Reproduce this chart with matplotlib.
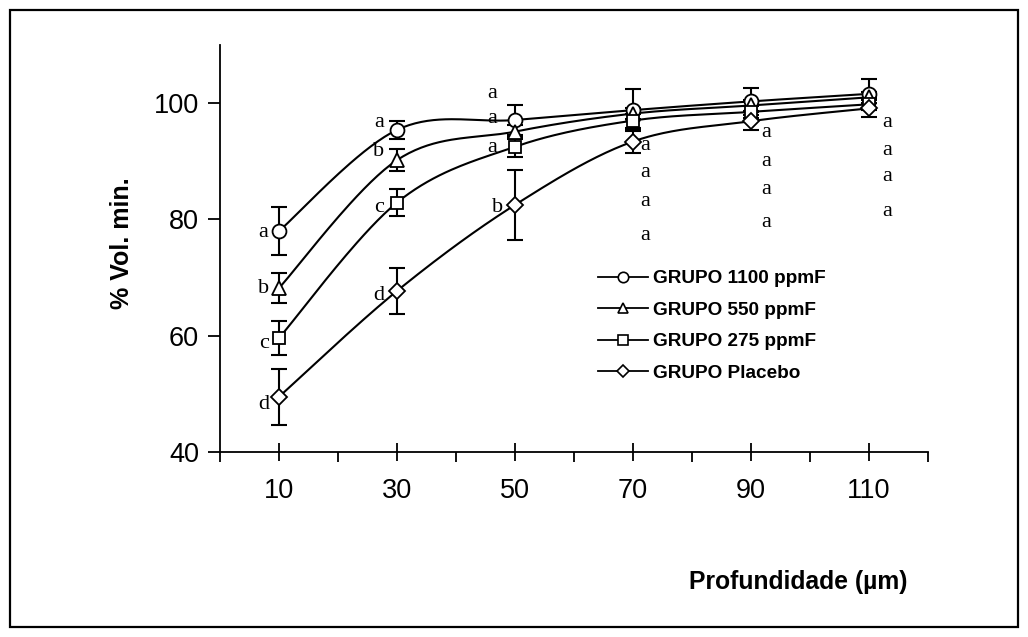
import numpy as np
import matplotlib
matplotlib.use("Agg")
import matplotlib.pyplot as plt
from matplotlib.patches import Rectangle
from matplotlib.lines import Line2D

# ---- data ----
depths = [10, 30, 50, 70, 90, 110]
g1100 = [78.0, 95.4, 97.1, 98.8, 100.3, 101.6]
e1100 = [4.2, 1.5, 2.6, 3.6, 2.3, 2.5]
g550 = [68.2, 90.2, 95.1, 98.2, 99.6, 101.0]
e550 = [2.6, 1.9, 1.2, 1.0, 1.0, 1.0]
g275 = [59.6, 82.9, 92.5, 97.0, 98.5, 99.8]
e275 = [3.0, 2.3, 1.7, 1.2, 1.0, 1.0]
gplac = [49.5, 67.7, 82.5, 93.4, 96.9, 99.1]
eplac = [4.8, 3.9, 6.0, 2.0, 1.6, 1.4]
series_names = ["GRUPO 1100 ppmF", "GRUPO 550 ppmF", "GRUPO 275 ppmF", "GRUPO Placebo"]
x_ticklabels = ["10", "30", "50", "70", "90", "110"]

# significance letters per depth (top to bottom)
letters = [["a", "b", "c", "d"], ["a", "b", "c", "d"], ["a", "a", "a", "b"],
           ["a", "a", "a", "a"], ["a", "a", "a", "a"], ["a", "a", "a", "a"]]

# ---- figure ----
W, H = 1028, 637
fig = plt.figure(figsize=(W / 100, H / 100), dpi=100)
fig.patches.append(Rectangle((10 / W, 10 / H), 1008 / W, 617 / H, transform=fig.transFigure,
                             fill=False, edgecolor="black", linewidth=1.6))

ax = fig.add_axes([220 / W, 1 - 452 / H, 708 / W, 407 / H])
ax.set_xlim(0, 120)
ax.set_ylim(40, 110)
for s in ["top", "right"]:
    ax.spines[s].set_visible(False)
for s in ["left", "bottom"]:
    ax.spines[s].set_linewidth(1.3)


def smooth(xs, ys, n=40):
    xs = np.asarray(xs, float)
    ys = np.asarray(ys, float)
    P = np.column_stack([xs, ys])
    out = []
    for i in range(len(P) - 1):
        p0 = P[i - 1] if i > 0 else P[i]
        p1 = P[i]
        p2 = P[i + 1]
        p3 = P[i + 2] if i + 2 < len(P) else P[i + 1]
        c1 = p1 + (p2 - p0) / 6.0
        c2 = p2 - (p3 - p1) / 6.0
        t = np.linspace(0, 1, n)[:, None]
        seg = ((1 - t) ** 3) * p1 + 3 * ((1 - t) ** 2) * t * c1 + 3 * (1 - t) * t ** 2 * c2 + t ** 3 * p2
        out.append(seg if i == 0 else seg[1:])
    out = np.vstack(out)
    return out[:, 0], out[:, 1]


series = [(g1100, e1100, "o", 10), (g550, e550, "^", 10), (g275, e275, "s", 9), (gplac, eplac, "D", 8.5)]
for (vals, errs, mk, ms), name in zip(series, series_names):
    sx, sy = smooth(depths, vals)
    ax.plot(sx, sy, color="black", lw=1.5, zorder=2)
    ax.errorbar(depths, vals, yerr=errs, fmt="none", ecolor="black", elinewidth=1.5,
                capsize=6, capthick=1.5, zorder=3)
    ax.plot(depths, vals, linestyle="none", marker=mk, markersize=ms, markerfacecolor="white",
            markeredgecolor="black", markeredgewidth=1.3, zorder=4)

# letter placement (layout only)
letter_pos = [
    (7.4, [77.7, 68.2, 58.7, 48.1]),
    (26.9, [96.6, 91.6, 82.1, 67.0]),
    (46.1, [101.7, 97.3, 92.4, 82.0]),
    (72.1, [92.8, 88.0, 83.0, 77.3]),
    (92.6, [94.9, 89.9, 85.1, 79.4]),
    (113.1, [96.6, 91.9, 87.3, 81.3]),
]
for (lx, lys), labs in zip(letter_pos, letters):
    for j, (ly, lab) in enumerate(zip(lys, labs)):
        xx = lx + (1.0 if (lx == 46.1 and j == 3) else 0)
        ax.text(xx, ly, lab, ha="center", va="center", fontsize=16,
                family="Liberation Serif", zorder=5)

# ticks
ax.set_xticks(depths)
ax.set_xticklabels(x_ticklabels, fontsize=19.5, family="Liberation Sans")
ax.set_xticks([0, 20, 40, 60, 80, 100, 120], minor=True)
ax.tick_params(axis="x", which="major", direction="inout", length=13, width=1.3, pad=12)
ax.tick_params(axis="x", which="minor", direction="out", length=7, width=1.3)
ax.set_yticks([40, 60, 80, 100])
ax.set_yticklabels(["40", "60", "80", "100"], fontsize=19.5, family="Liberation Sans")
ax.tick_params(axis="y", direction="out", length=9, width=1.3, pad=6)

fig.text(122 / W, 1 - 243 / H, "% Vol. min.", rotation=90, ha="center", va="center",
         fontsize=18, fontweight="bold", family="Liberation Sans")
fig.text(798 / W, 1 - 582 / H, "Profundidade (µm)", ha="center", va="center",
         fontsize=17.8, fontweight="bold", family="Liberation Sans")

# legend
handles = [Line2D([], [], color="black", lw=1.3, marker=mk, markersize=ms * 0.75,
                  markerfacecolor="white", markeredgecolor="black", markeredgewidth=1.2)
           for (_, _, mk, ms) in series]
leg = ax.legend(handles, series_names, loc="upper left", bbox_to_anchor=(598 / W, 1 - 270 / H),
                bbox_transform=fig.transFigure, frameon=False, handlelength=2.63,
                handletextpad=0.26, labelspacing=0.75, borderpad=0, borderaxespad=0,
                prop={"family": "Liberation Sans", "weight": "bold", "size": 13.7})

fig.savefig("out.png", dpi=100)
